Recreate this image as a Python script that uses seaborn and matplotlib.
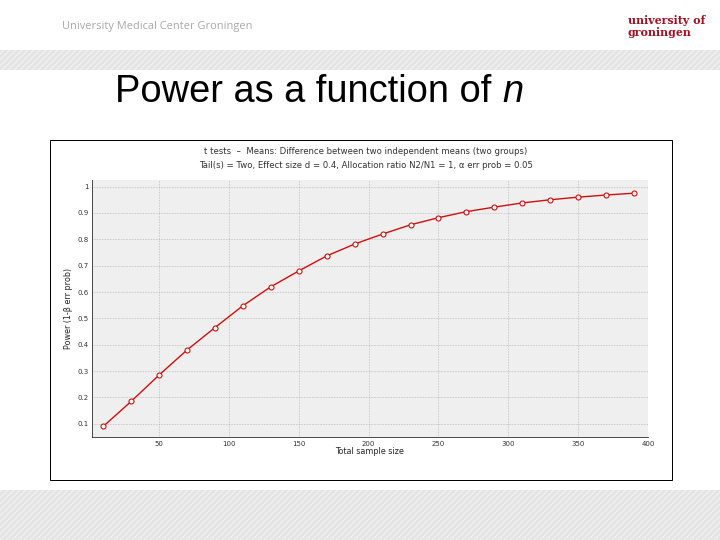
import numpy as np
import pandas as pd
import matplotlib
matplotlib.use("Agg")
import matplotlib.pyplot as plt
from matplotlib.patches import Rectangle
import seaborn as sns

# Data read from the G*Power plot
SAMPLE_SIZE = [10, 30, 50, 70, 90, 110, 130, 150, 170, 190,
               210, 230, 250, 270, 290, 310, 330, 350, 370, 390]
POWER = [0.09, 0.185, 0.285, 0.38, 0.465, 0.548, 0.62, 0.68, 0.737, 0.782,
         0.82, 0.855, 0.882, 0.905, 0.922, 0.938, 0.95, 0.96, 0.968, 0.975]
X_TICKS = [50, 100, 150, 200, 250, 300, 350, 400]
Y_TICKS = [0.1, 0.2, 0.3, 0.4, 0.5, 0.6, 0.7, 0.8, 0.9, 1.0]
Y_LABELS = ["0.1", "0.2", "0.3", "0.4", "0.5", "0.6", "0.7", "0.8", "0.9", "1"]

df = pd.DataFrame({"n": SAMPLE_SIZE, "power": POWER})

sns.set_style("white")
W, H = 720, 540
fig = plt.figure(figsize=(10, 7.5), dpi=72)

# slide header / footer bands
fig.patches.append(Rectangle((0, 1 - 70 / H), 1, 20 / H, transform=fig.transFigure,
                             facecolor="#e4e4e4", hatch="////", edgecolor="#f4f4f4",
                             lw=0, zorder=-5))
fig.patches.append(Rectangle((0, 0), 1, 50 / H, transform=fig.transFigure,
                             facecolor="#e4e4e4", hatch="////", edgecolor="#f4f4f4",
                             lw=0, zorder=-5))
fig.text(62 / W, 1 - 27 / H, "University Medical Center Groningen", fontsize=11,
         color="#a8a8a8", va="center", family="Open Sans")
fig.text(628 / W, 1 - 20 / H, "university of", fontsize=11, color="#a01020",
         va="center", family="DejaVu Serif", fontweight="bold")
fig.text(628 / W, 1 - 33 / H, "groningen", fontsize=11, color="#a01020",
         va="center", family="DejaVu Serif", fontweight="bold")
t = fig.text(115 / W, 1 - 92 / H, "Power as a function of ", fontsize=38,
             family="Liberation Sans", va="center", color="black")
fig.canvas.draw()
bb = t.get_window_extent()
fig.text(bb.x1 / W, 1 - 92 / H, "n", fontsize=38, style="italic",
         family="Liberation Sans", va="center", color="black")

# chart panel
fig.patches.append(Rectangle((50 / W, 1 - 480 / H), 622 / W, 340 / H,
                             transform=fig.transFigure, facecolor="white",
                             edgecolor="black", lw=1, zorder=-4))
fig.text(366 / W, 1 - 151 / H,
         "t tests  –  Means: Difference between two independent means (two groups)",
         ha="center", fontsize=8.5, color="#333333", va="center")
fig.text(366 / W, 1 - 166 / H,
         "Tail(s) = Two, Effect size d = 0.4, Allocation ratio N2/N1 = 1, α err prob = 0.05",
         ha="center", fontsize=8.5, color="#333333", va="center")

ax = fig.add_axes([92 / W, 1 - 437 / H, 556 / W, 257 / H])
ax.set_facecolor("#efefef")
sns.lineplot(data=df, x="n", y="power", ax=ax, color="#d01010", lw=1.4,
             marker="o", markersize=5, markerfacecolor="white",
             markeredgecolor="#d01010", markeredgewidth=1.1)
ax.set_xlim(2, 400)
ax.set_ylim(0.05, 1.025)
ax.set_xticks(X_TICKS)
ax.set_xticks(range(25, 400, 50), minor=True)
ax.set_yticks(Y_TICKS)
ax.set_yticklabels(Y_LABELS)
ax.set_yticks(np.arange(0.05, 1.0, 0.1), minor=True)
ax.grid(True, which="major", color="#999999", lw=0.6, ls=":")
ax.tick_params(which="both", direction="in", length=4, labelsize=7, colors="#333333")
for s in ["top", "right"]:
    ax.spines[s].set_visible(False)
for s in ["left", "bottom"]:
    ax.spines[s].set_color("#222222")
ax.set_xlabel("Total sample size", fontsize=8, labelpad=1)
ax.set_ylabel("Power (1-β err prob)", fontsize=8, labelpad=4)

fig.savefig("out.png", dpi=72)
